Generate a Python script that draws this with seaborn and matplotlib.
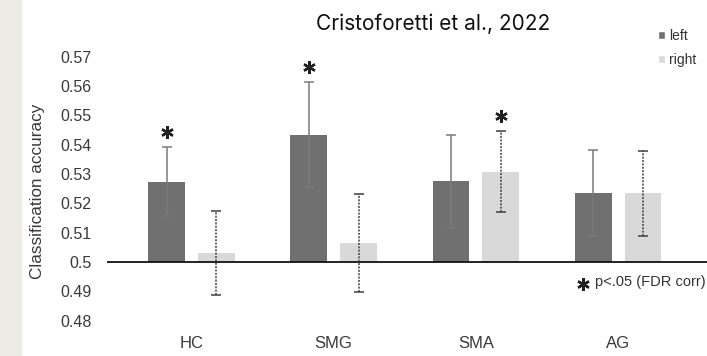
import numpy as np
import pandas as pd
import matplotlib
matplotlib.use("Agg")
import matplotlib.pyplot as plt
from matplotlib.patches import Rectangle
import seaborn as sns

# Decoding accuracy per region and hemisphere (mean and error)
regions = ["HC", "SMG", "SMA", "AG"]
hemispheres = ["left", "right"]
left_acc = [0.5274, 0.5435, 0.5275, 0.5235]
right_acc = [0.5031, 0.5066, 0.5308, 0.5234]
left_err = [0.0117, 0.0179, 0.0158, 0.0147]
right_err = [0.0144, 0.0167, 0.0139, 0.0145]
left_sig = [True, True, False, False]
right_sig = [False, False, True, False]
chance = 0.5
yticks = [0.48, 0.49, 0.50, 0.51, 0.52, 0.53, 0.54, 0.55, 0.56, 0.57]

df = pd.DataFrame({
    "region": regions * 2,
    "hemisphere": ["left"] * len(regions) + ["right"] * len(regions),
    "accuracy": left_acc + right_acc,
})

sns.set_theme(style="white")
plt.rcParams["font.family"] = ["Liberation Sans", "DejaVu Sans"]

W, H = 707, 356
fig = plt.figure(figsize=(W / 100, H / 100), dpi=100)
fig.patches.append(Rectangle((0, 0), 21 / W, 1, transform=fig.transFigure,
                             color="#ECEAE5", zorder=0))

ax = fig.add_axes([107 / W, (H - 332.3) / H, 600 / W, 281.3 / H])
ax.patch.set_alpha(0)

colors = {"left": "#707070", "right": "#d9d9d9"}
sns.barplot(data=df, x="region", y="accuracy", hue="hemisphere",
            order=regions, hue_order=hemispheres, palette=colors,
            width=0.7, gap=0.26, errorbar=None, saturation=1, ax=ax)

# bars start from chance level
series = [
    (left_acc, left_err, left_sig, "#7a7a7a", "-"),
    (right_acc, right_err, right_sig, "#3f3f3f", (0, (1.3, 0.9))),
]
for cont, (vals, errs, sigs, ecol, ls) in zip(ax.containers, series):
    xs = []
    for bar, v in zip(cont, vals):
        bar.set_y(chance)
        bar.set_height(bar.get_height() - chance)
        bar.set_linewidth(0)
        xs.append(bar.get_x() + bar.get_width() / 2)
    eb = ax.errorbar(xs, vals, yerr=errs, fmt="none", ecolor=ecol,
                     elinewidth=1.1, capsize=3.5, capthick=1.1, zorder=4)
    eb[2][0].set_linestyle(ls)
    for x, v, e, s in zip(xs, vals, errs, sigs):
        if s:
            ax.plot(x, v + e + 0.0052, marker=(6, 2, 0), markersize=9,
                    mew=1.7, color="#222222", clip_on=False, zorder=5)

ax.axhline(chance, color="#111111", lw=1.3, zorder=3)

ax.set_xlim(-0.594, 3.625)
ax.set_ylim(0.476, 0.572)
ax.set_yticks(yticks)
ax.set_yticklabels([f"{t:g}" for t in yticks], fontsize=11.5, color="#3a3a3a")
ax.tick_params(axis="y", length=0, pad=11)
ax.tick_params(axis="x", length=0, pad=3, labelsize=12, labelcolor="#3a3a3a")
ax.set_xlabel("")
ax.set_ylabel("Classification accuracy", fontsize=12.3, color="#3a3a3a")
ax.yaxis.set_label_coords(-0.103, 0.5)
sns.despine(ax=ax, left=True, bottom=True)

handles, labels = ax.get_legend_handles_labels()
ax.legend(handles, labels, loc="upper left",
          bbox_to_anchor=(658 / W, 1 - 29 / H), bbox_transform=fig.transFigure,
          frameon=False, handlelength=0.5, handleheight=0.5,
          handletextpad=0.3, labelspacing=0.7, fontsize=10,
          labelcolor="#333333", borderaxespad=0, borderpad=0)

fig.text(433.5 / W, 1 - 24 / H, "Cristoforetti et al., 2022", ha="center",
         va="center", fontsize=15, color="#111111",
         family=["Inter", "DejaVu Sans"])

# significance note
ax.plot((583 - 107) / 600, (332.3 - 284) / 281.3, transform=ax.transAxes,
        marker=(6, 2, 0), markersize=9, mew=1.7, color="#222222",
        clip_on=False)
ax.text((595 - 107) / 600, (332.3 - 282) / 281.3, "p<.05 (FDR corr)",
        transform=ax.transAxes, ha="left", va="center", fontsize=10.5,
        color="#333333", clip_on=False)

fig.savefig("out.png", dpi=100)
